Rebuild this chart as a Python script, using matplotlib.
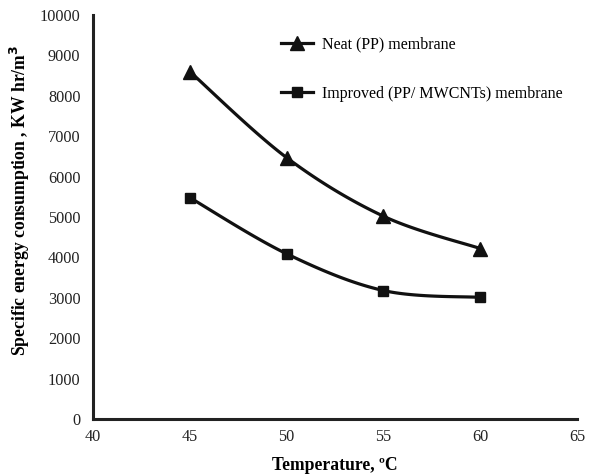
import numpy as np
import matplotlib.pyplot as plt

plt.rcParams['font.family'] = ['Liberation Serif', 'DejaVu Serif']

temperature = [45, 50, 55, 60]
neat_pp = [8600, 6470, 5020, 4220]
improved_pp_mwcnts = [5480, 4090, 3180, 3010]


def smooth(x, y, n=40):
    # Excel-style smoothed line: cubic Bezier through the points
    x = np.asarray(x, float)
    y = np.asarray(y, float)
    px = np.concatenate([[x[0]], x, [x[-1]]])
    py = np.concatenate([[y[0]], y, [y[-1]]])
    xs, ys = [], []
    t = np.linspace(0, 1, n)
    for i in range(1, len(px) - 2):
        p0 = np.array([px[i], py[i]])
        p3 = np.array([px[i + 1], py[i + 1]])
        p1 = p0 + (np.array([px[i + 1], py[i + 1]]) - np.array([px[i - 1], py[i - 1]])) / 6
        p2 = p3 - (np.array([px[i + 2], py[i + 2]]) - np.array([px[i], py[i]])) / 6
        b = ((1 - t) ** 3)[:, None] * p0 + (3 * (1 - t) ** 2 * t)[:, None] * p1 \
            + (3 * (1 - t) * t ** 2)[:, None] * p2 + (t ** 3)[:, None] * p3
        xs.append(b[:, 0])
        ys.append(b[:, 1])
    return np.concatenate(xs), np.concatenate(ys)


fig = plt.figure(figsize=(6.1, 4.75), dpi=100)
ax = fig.add_axes([93 / 610, 56 / 475, 484 / 610, 404 / 475])

for y, m, ms, lab in [(neat_pp, '^', 10, 'Neat (PP) membrane'),
                      (improved_pp_mwcnts, 's', 7.5, 'Improved (PP/ MWCNTs) membrane')]:
    sx, sy = smooth(temperature, y)
    ax.plot(sx, sy, color='#111111', lw=2.3)
    ax.plot(temperature, y, ls='none', marker=m, ms=ms, color='#111111')
    ax.plot([], [], color='#111111', lw=2.3, marker=m, ms=ms, label=lab)

ax.set_xlim(40, 65)
ax.set_ylim(0, 10000)
ax.set_xticks(range(40, 66, 5))
ax.set_yticks(range(0, 10001, 1000))
ax.tick_params(length=0, labelsize=11.7, colors='#222222')
ax.tick_params(axis='y', pad=9)
ax.tick_params(axis='x', pad=7)
for s in ['top', 'right']:
    ax.spines[s].set_visible(False)
for s in ['left', 'bottom']:
    ax.spines[s].set_linewidth(2.2)
    ax.spines[s].set_color('#222222')

ax.set_xlabel('Temperature, ºC', fontsize=12.7, fontweight='bold')
ax.set_ylabel('Specific energy consumption , KW hr/m$^\\mathbf{3}$', fontsize=12.7,
              fontweight='bold')
ax.xaxis.set_label_coords(0.5, -0.094)
ax.yaxis.set_label_coords(-0.125, 0.542)

ax.legend(loc='upper left', bbox_to_anchor=(0.358, 0.983), frameon=False,
          fontsize=11.5, labelspacing=2.1, handlelength=2.0, handletextpad=0.6)

fig.savefig('out.png', dpi=100)
